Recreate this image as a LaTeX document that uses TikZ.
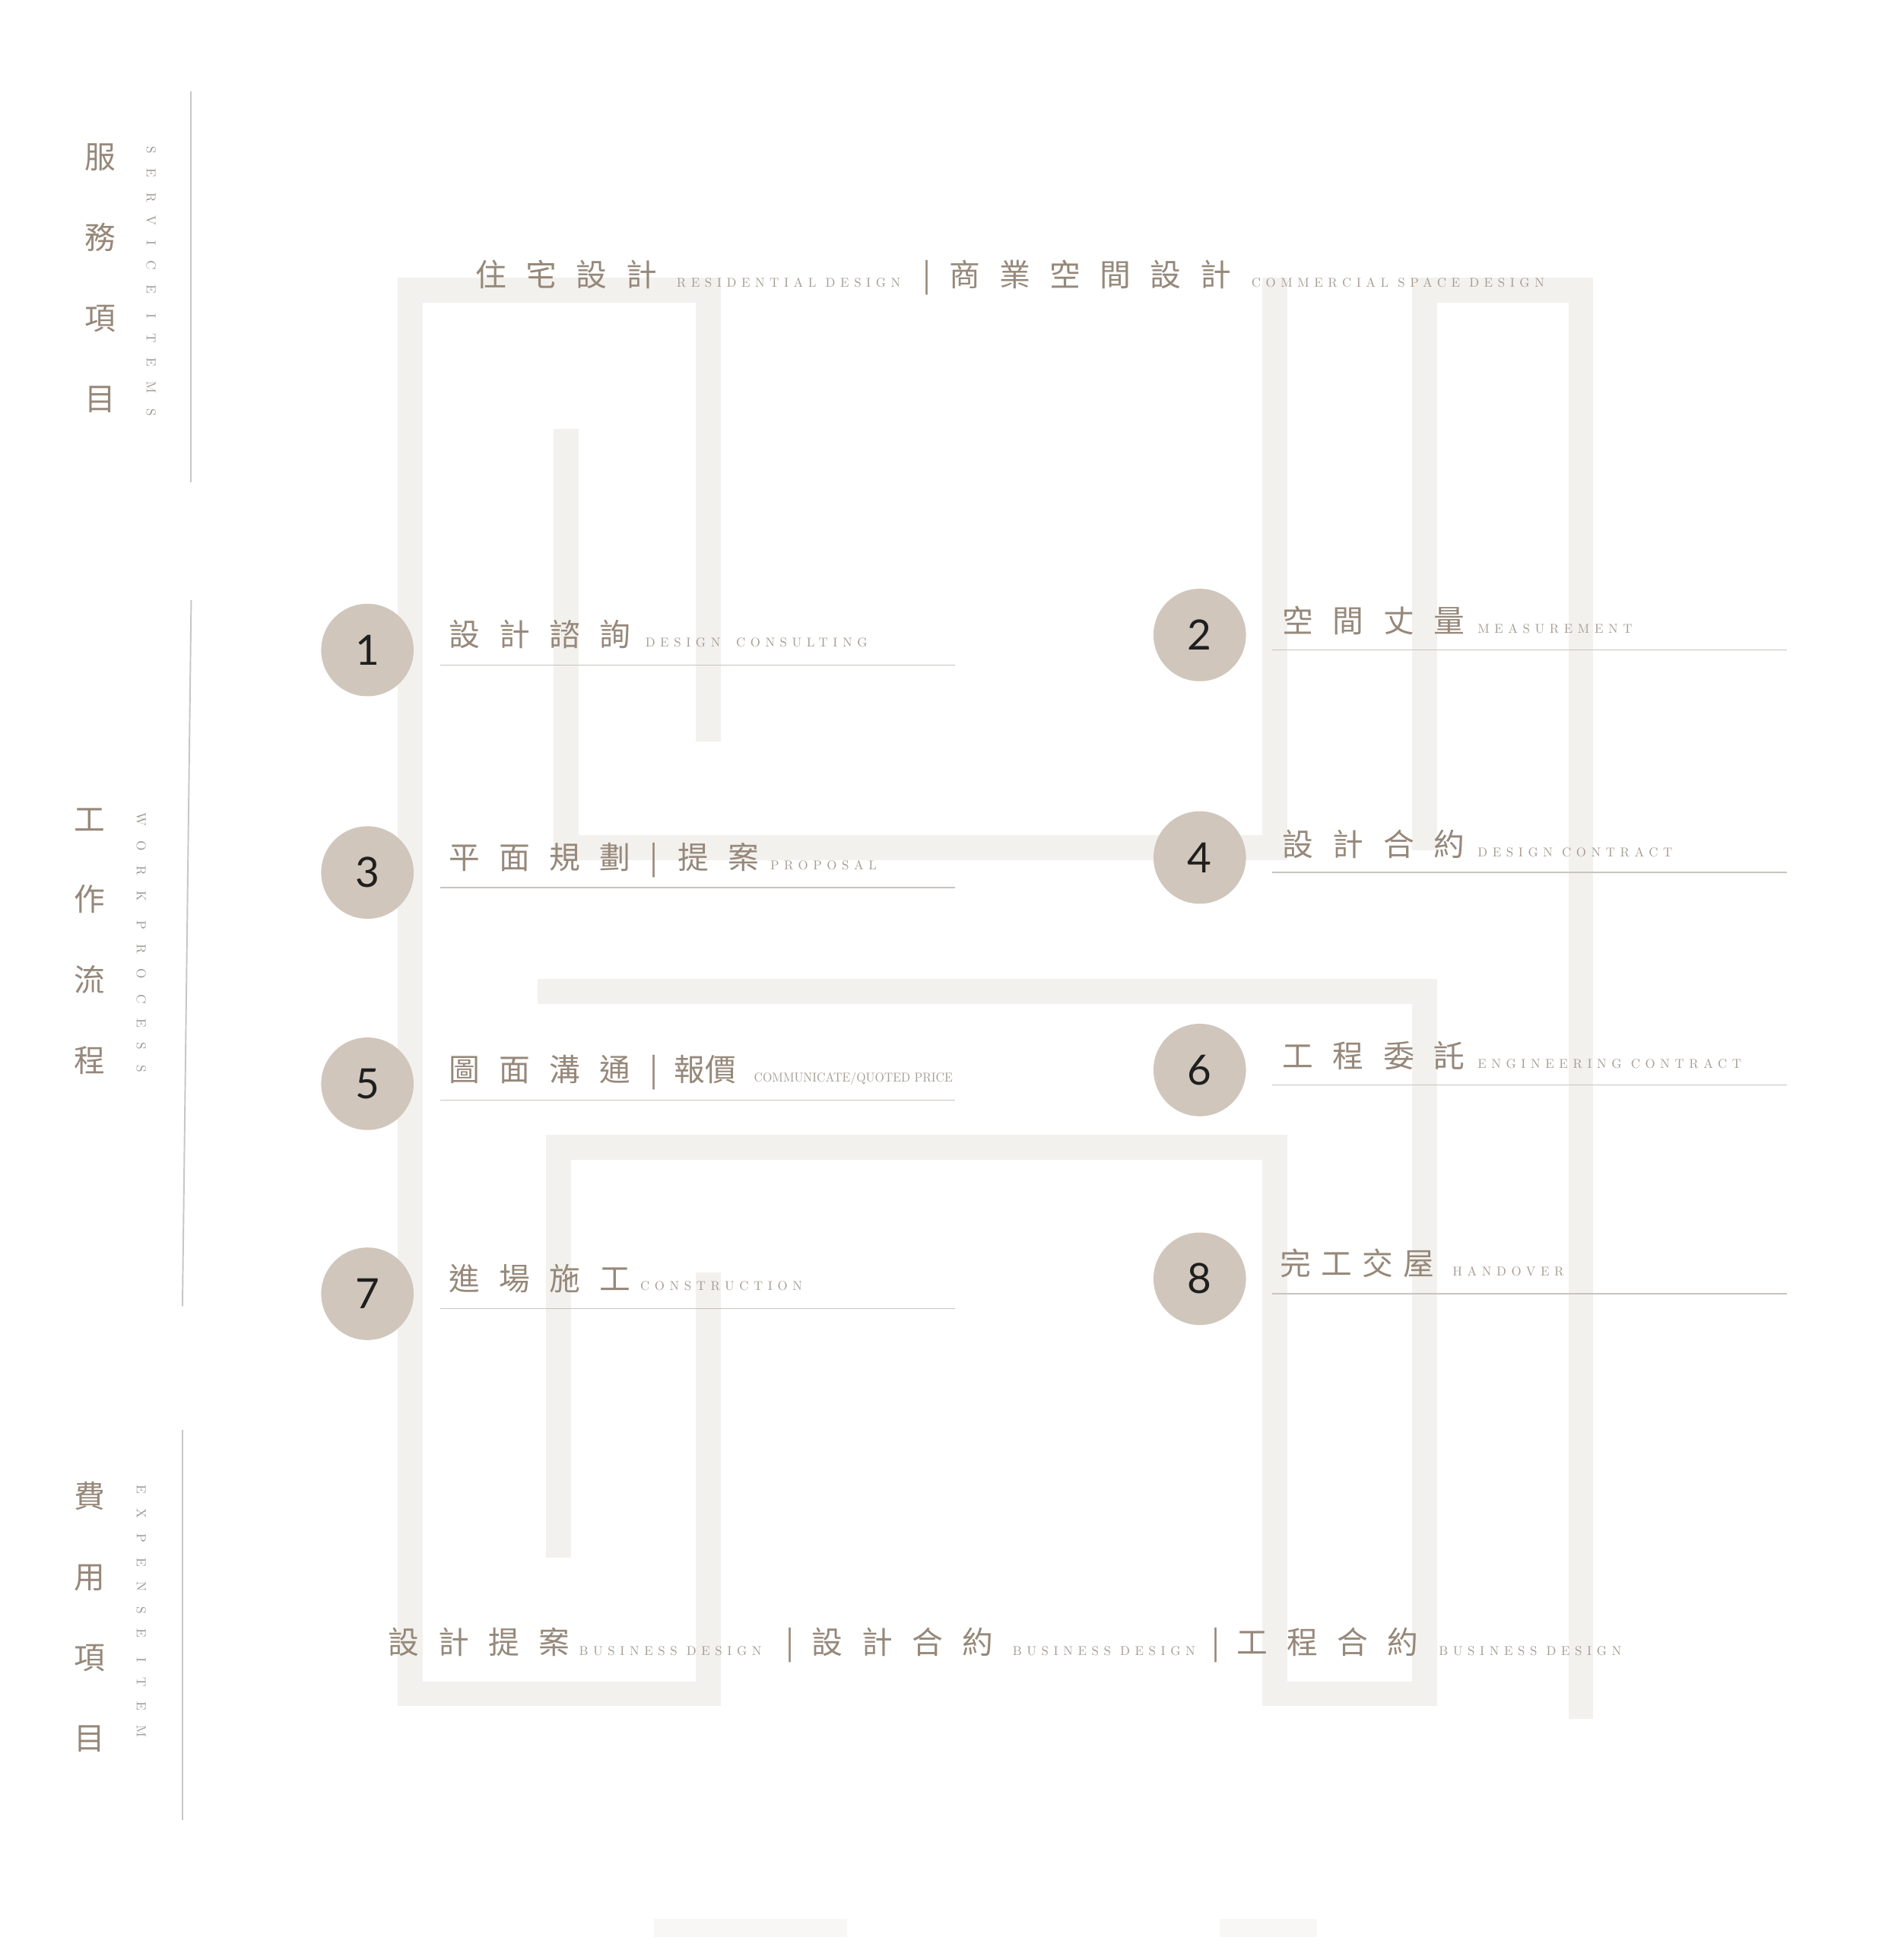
\documentclass[tikz,border=0pt]{standalone}
\usepackage{fontspec}
\newfontfamily\cjkf{Noto Sans CJK TC}
\newfontfamily\numf{Lato}
\newfontfamily\enf{lmroman10-regular.otf}
\definecolor{barc}{RGB}{243,241,238}
\definecolor{faintc}{RGB}{248,247,245}
\definecolor{cjkc}{RGB}{150,136,122}
\definecolor{enc}{RGB}{165,156,147}
\definecolor{vtc}{RGB}{155,151,147}
\definecolor{circc}{RGB}{208,198,188}
\definecolor{ulc}{RGB}{200,196,191}
\definecolor{sidec}{RGB}{200,199,198}
\tikzset{
  cjt/.style={font=\cjkf\fontsize{11.6}{12}\selectfont\addfontfeatures{LetterSpace=62}, text=cjkc, inner sep=0pt, anchor=base west},
  cjtight/.style={font=\cjkf\fontsize{11.6}{12}\selectfont\addfontfeatures{LetterSpace=32}, text=cjkc, inner sep=0pt, anchor=base west},
  cjplain/.style={font=\cjkf\fontsize{11.6}{12}\selectfont, text=cjkc, inner sep=0pt, anchor=base west},
  vsep/.style={font=\cjkf\fontsize{11.6}{12}\selectfont, text=cjkc, inner sep=0pt, anchor=base},
  ent/.style={font=\enf\fontsize{4.8}{5}\selectfont\addfontfeatures{LetterSpace=39}, text=enc, inner sep=0pt, anchor=base west},
  entc/.style={font=\enf\fontsize{4.8}{5}\selectfont, text=enc, inner sep=0pt, anchor=base west, xscale=0.94},
  sidecjk/.style={font=\cjkf\fontsize{11.6}{30.1}\selectfont, align=center, text=cjkc, inner sep=0pt},
  sideen/.style={font=\enf\fontsize{4.9}{5}\selectfont\addfontfeatures{LetterSpace=115}, text=vtc, inner sep=0pt, rotate=-90},
  stepc/.style={circle, fill=circc, minimum size=34.6pt, inner sep=0pt, font=\numf\fontsize{15.6}{16}\selectfont, text=black!88},
  uline/.style={draw=ulc, line width=0.4pt},
  sline/.style={draw=sidec, line width=0.55pt},
  barfill/.style={fill=barc},
}
\begin{document}
\begin{tikzpicture}[x=0.016437cm, y=-0.016437cm]
\useasboundingbox (0,0) rectangle (1521,1568);
\fill[white] (0,0) rectangle (1521,1568);
% background maze bars
% shape A
\fill[barfill] (318,222) rectangle (577,242);
\fill[barfill] (318,222) rectangle (338,1365);
\fill[barfill] (557,222) rectangle (577,593);
\fill[barfill] (318,1345) rectangle (577,1365);
\fill[barfill] (557,1018) rectangle (577,1365);
% shape B
\fill[barfill] (443,343) rectangle (463,688);
\fill[barfill] (443,668) rectangle (1030,688);
\fill[barfill] (1010,222) rectangle (1030,688);
% shape C
\fill[barfill] (1130,222) rectangle (1275,242);
\fill[barfill] (1130,222) rectangle (1150,680);
\fill[barfill] (1255,222) rectangle (1275,1375);
% shape D
\fill[barfill] (430,783) rectangle (1150,803);
\fill[barfill] (1130,783) rectangle (1150,1365);
\fill[barfill] (1010,1345) rectangle (1150,1365);
\fill[barfill] (1010,908) rectangle (1030,1365);
\fill[barfill] (437,908) rectangle (1030,928);
\fill[barfill] (437,908) rectangle (457,1246);
% faint bottom blocks
\fill[faintc] (523,1535) rectangle (678,1550);
\fill[faintc] (976,1535) rectangle (1054,1550);

% side lines
\coordinate (l1a) at (153,73);  \coordinate (l1b) at (153,386);
\coordinate (l2a) at (153,480); \coordinate (l2b) at (146,1045);
\coordinate (l3a) at (146,1144); \coordinate (l3b) at (146,1456);
\draw[sline] (l1a) -- (l1b);
\draw[sline] (l2a) -- (l2b);
\draw[sline] (l3a) -- (l3b);

% side labels
\node[sidecjk] (svc) at (80,222.5) {服\\務\\項\\目};
\node[sideen] (svcen) at (121,225) {SERVICE ITEMS};
\node[sidecjk] (wrk) at (72,753) {工\\作\\流\\程};
\node[sideen] (wrken) at (113,754) {WORK PROCESS};
\node[sidecjk] (exp) at (72,1293.5) {費\\用\\項\\目};
\node[sideen] (expen) at (113,1289) {EXPENSE ITEM};

% top row
\node[cjt] (top1) at (380,229) {住宅設計};
\node[ent] (top1e) at (541,229.5) {RESIDENTIAL DESIGN};
\node[vsep] (topsep) at (742,229) {|};
\node[cjt] (top2) at (759,229) {商業空間設計};
\node[ent] (top2e) at (1001,229.5) {COMMERCIAL SPACE DESIGN};

% underlines
\draw[uline] (352,532) -- (764,532);
\draw[uline] (1018,520) -- (1430,520);
\draw[uline] (352,710) -- (764,710);
\draw[uline] (1018,698) -- (1430,698);
\draw[uline] (352,880) -- (764,880);
\draw[uline] (1018,868) -- (1430,868);
\draw[uline] (352,1047) -- (764,1047);
\draw[uline] (1018,1035) -- (1430,1035);

% step circles
\node[stepc] (c1) at (294,520) {1};
\node[stepc] (c2) at (960,508) {2};
\node[stepc] (c3) at (294,698) {3};
\node[stepc] (c4) at (960,686) {4};
\node[stepc] (c5) at (294,867) {5};
\node[stepc] (c6) at (960,856) {6};
\node[stepc] (c7) at (294,1035) {7};
\node[stepc] (c8) at (960,1023) {8};

% step texts
\node[cjt] (s1) at (359,517) {設計諮詢};
\node[ent] (s1e) at (516,517.5) {DESIGN\hspace{2.4pt} CONSULTING};
\node[cjt] (s2) at (1026,506) {空間丈量};
\node[ent] (s2e) at (1182,506.5) {MEASUREMENT};
\node[cjt] (s3) at (359,695) {平面規劃|提案};
\node[ent] (s3e) at (616,695.5) {PROPOSAL};
\node[cjt] (s4) at (1026,685) {設計合約};
\node[ent] (s4e) at (1182,685.5) {DESIGN CONTRACT};
\node[cjt] (s5) at (359,865) {圖面溝通|};
\node[cjplain] (s5b) at (539,865) {報價};
\node[entc] (s5e) at (603,865.5) {COMMUNICATE/QUOTED PRICE};
\node[cjt] (s6) at (1026,854) {工程委託};
\node[ent] (s6e) at (1182,854.5) {ENGINEERING CONTRACT};
\node[cjt] (s7) at (359,1032) {進場施工};
\node[ent] (s7e) at (512,1032.5) {CONSTRUCTION};
\node[cjtight] (s8) at (1024,1020) {完工交屋};
\node[ent] (s8e) at (1162,1020.5) {HANDOVER};

% bottom row
\node[cjt] (b1) at (310,1323) {設計提案};
\node[ent] (b1e) at (463,1324) {BUSINESS DESIGN};
\node[vsep] (bsep1) at (632,1323) {|};
\node[cjt] (b2) at (649,1323) {設計合約};
\node[ent] (b2e) at (810,1324) {BUSINESS DESIGN};
\node[vsep] (bsep2) at (973,1323) {|};
\node[cjt] (b3) at (989,1323) {工程合約};
\node[ent] (b3e) at (1151,1324) {BUSINESS DESIGN};
\end{tikzpicture}
\end{document}
